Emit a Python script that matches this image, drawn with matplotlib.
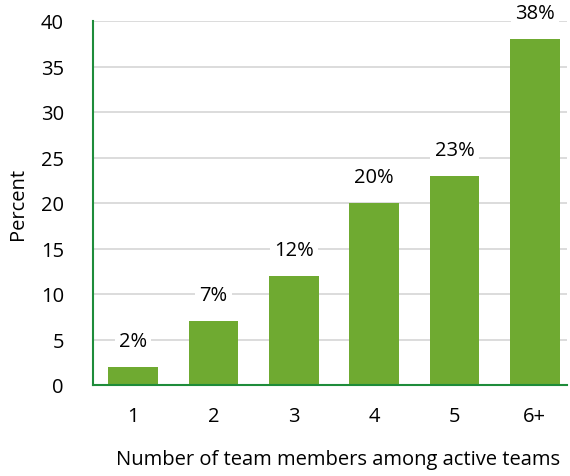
import matplotlib
matplotlib.use("Agg")
import matplotlib.pyplot as plt
from matplotlib.transforms import offset_copy

categories = ["1", "2", "3", "4", "5", "6+"]
values = [2, 7, 12, 20, 23, 38]
labels = ["2%", "7%", "12%", "20%", "23%", "38%"]
yticks = [0, 5, 10, 15, 20, 25, 30, 35, 40]

plt.rcParams['font.family'] = ['Open Sans', 'DejaVu Sans']
FS = 14.5

fig = plt.figure(figsize=(5.7, 4.77), dpi=100)
ax = fig.add_axes([93/570, 1-386/477, (567-93)/570, (386-22)/477])

x = list(range(len(categories)))
ax.bar(x, values, width=0.62, color="#6faa31", zorder=2)
ax.set_xlim(-0.5, 5.4)
ax.set_ylim(0, 40)
ax.set_yticks(yticks)
ax.set_xticks(x)
ax.set_xticklabels(categories)
ax.yaxis.grid(True, color="#d9d9d9", linewidth=1.3, zorder=0)
ax.set_axisbelow(True)
for s in ["top", "right"]:
    ax.spines[s].set_visible(False)
for s in ["left", "bottom"]:
    ax.spines[s].set_color("#1e8c3a")
    ax.spines[s].set_linewidth(1.5)
ax.tick_params(axis="both", length=0, labelsize=FS, colors="#000000")
ax.tick_params(axis="x", pad=15)
ax.tick_params(axis="y", pad=21)

for xi, v, lab in zip(x, values, labels):
    tr = offset_copy(ax.transData, fig=fig, x=0, y=26, units="dots")
    ax.text(xi, v, lab, transform=tr, ha="center", va="center", fontsize=FS,
            bbox=dict(facecolor="white", edgecolor="none", pad=3), zorder=3)

ax.set_xlabel("Number of team members among active teams", fontsize=FS)
ax.set_ylabel("Percent", fontsize=FS)
ax.xaxis.set_label_coords((338-93)/474, -(460-386)/364)
ax.yaxis.set_label_coords(-(93-18)/474, 0.5)
ax.xaxis.label.set_va("center")
ax.yaxis.label.set_va("center")

fig.savefig("out.png", dpi=100)
